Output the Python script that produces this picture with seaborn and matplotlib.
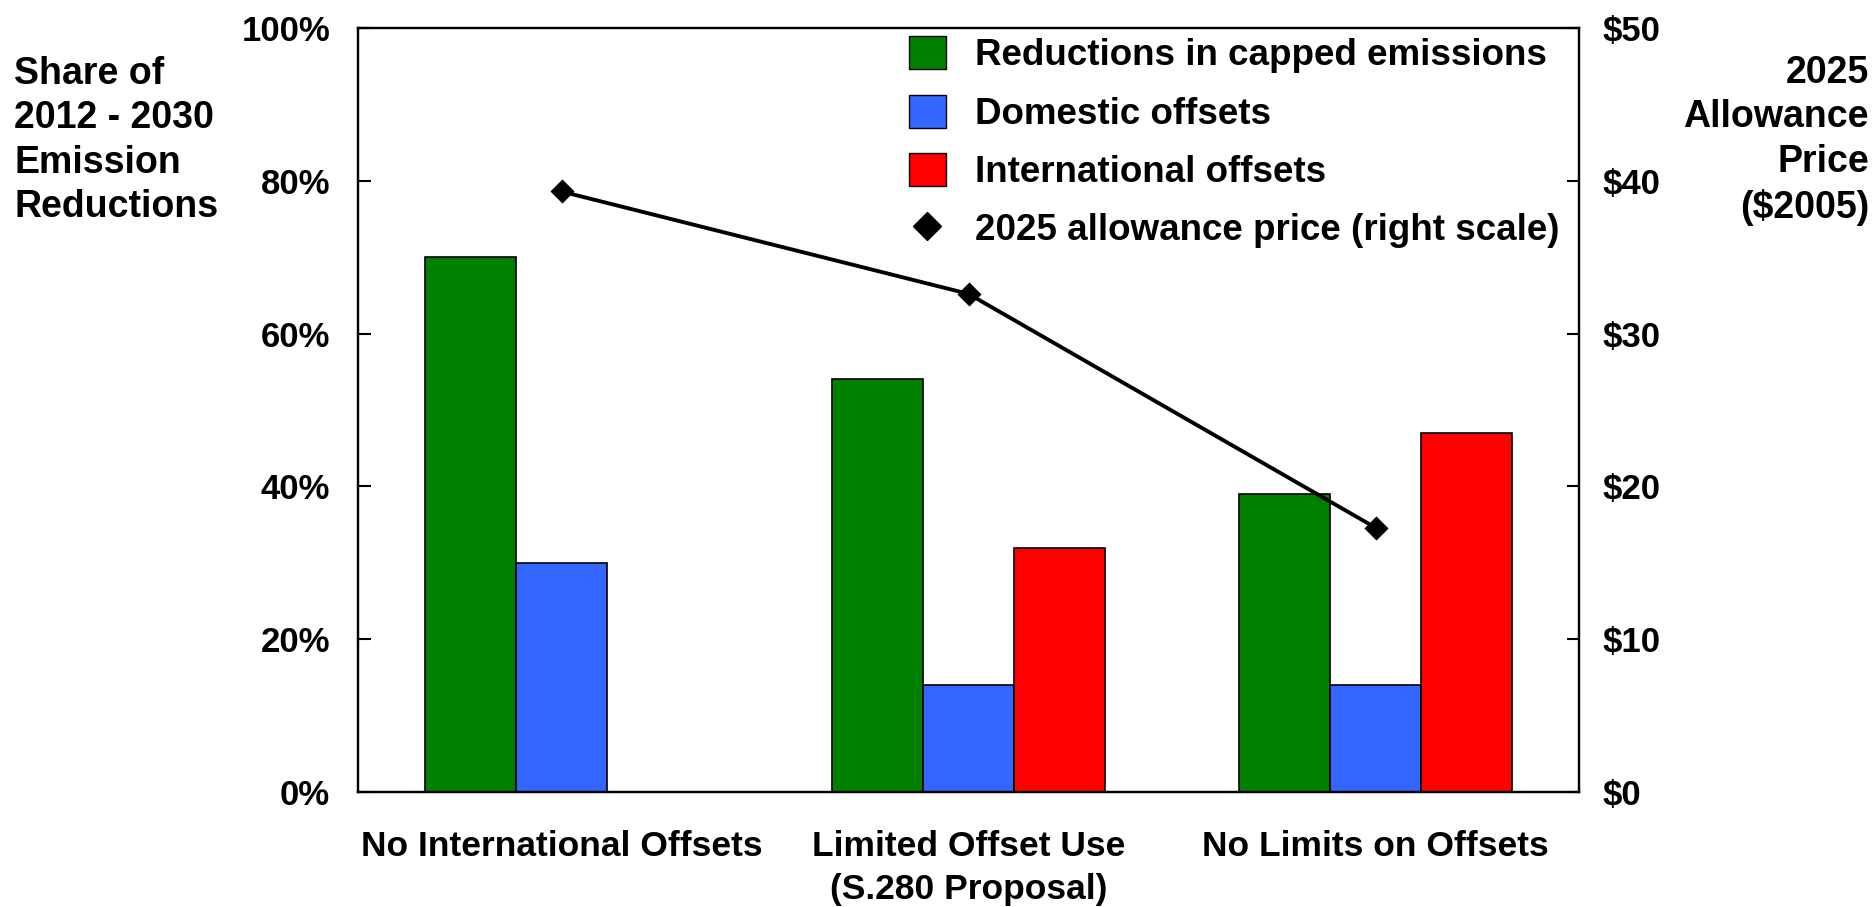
import numpy as np
import pandas as pd
import matplotlib
matplotlib.use("Agg")
import matplotlib.pyplot as plt
from matplotlib.patches import Patch
from matplotlib.lines import Line2D
from matplotlib.ticker import FuncFormatter
import seaborn as sns

# ---- data ----
categories = ["No International Offsets", "Limited Offset Use\n(S.280 Proposal)", "No Limits on Offsets"]
series_names = ["Reductions in capped emissions", "Domestic offsets", "International offsets"]
capped = [70, 54, 39]
domestic = [30, 14, 14]
international = [None, 32, 47]
price = [39.3, 32.6, 17.3]
price_label = "2025 allowance price (right scale)"
left_ticks = [0, 20, 40, 60, 80, 100]
right_ticks = [0, 10, 20, 30, 40, 50]
colors = ["#008000", "#3366FF", "#FF0000"]

rows = []
for name, vals in zip(series_names, [capped, domestic, international]):
    for c, v in zip(categories, vals):
        if v is not None:
            rows.append({"scenario": c, "series": name, "share": v})
df = pd.DataFrame(rows)
price_df = pd.DataFrame({"scenario": categories, "price": price})

sns.set_style("white")
plt.rcParams["font.family"] = ["Liberation Sans", "DejaVu Sans"]
plt.rcParams["font.weight"] = "bold"
for k in ["text.color", "axes.labelcolor", "xtick.color", "ytick.color", "axes.edgecolor"]:
    plt.rcParams[k] = "black"

FS_TICK = 25
FS_X = 25.5
FS_LEG = 26.5
FS_TITLE = 27

fig = plt.figure(figsize=(18.76, 9.07), dpi=100)
ax = fig.add_axes([358 / 1876, 1 - 792 / 907, 1221 / 1876, 764 / 907])
ax2 = ax.twinx()

sns.barplot(data=df, x="scenario", y="share", hue="series", order=categories,
            hue_order=series_names, palette=dict(zip(series_names, colors)),
            width=0.67, edgecolor="black", linewidth=1.2, saturation=1,
            ax=ax, legend=False)

sns.pointplot(data=price_df, x="scenario", y="price", order=categories, ax=ax2,
              color="black", markers="D", markersize=10.5, linewidth=2.8,
              errorbar=None)

ax.set_xlim(-0.5, len(categories) - 0.5)
ax.set_ylim(0, 100)
ax2.set_ylim(0, 50)
ax.set_yticks(left_ticks)
ax2.set_yticks(right_ticks)
ax.yaxis.set_major_formatter(FuncFormatter(lambda v, p: f"{v:.0f}%"))
ax2.yaxis.set_major_formatter(FuncFormatter(lambda v, p: f"${v:.0f}"))

ax.set_xticks(range(len(categories)))
ax.set_xticklabels(categories, fontsize=FS_X, fontweight="bold", linespacing=1.39)
ax.set_xticks(np.arange(0.5, len(categories) - 1, 1.0), minor=True)
ax.tick_params(axis="x", which="major", length=0, pad=27.5)
ax.tick_params(axis="x", which="minor", direction="in", length=9, width=1.5)
ax.tick_params(axis="y", direction="in", length=9, width=1.5, labelsize=FS_TICK, pad=20)
ax2.tick_params(axis="y", direction="in", length=9, width=1.5, labelsize=FS_TICK, pad=17)
for t in ax.get_yticklabels() + ax2.get_yticklabels():
    t.set_fontweight("bold")

ax.set_xlabel("")
ax.set_ylabel("")
ax2.set_ylabel("")
for a in (ax, ax2):
    for s in a.spines.values():
        s.set_linewidth(1.6)
        s.set_color("black")

ax.text(-0.2817, 0.853, "Share of\n2012 - 2030\nEmission\nReductions",
        transform=ax.transAxes, ha="left", va="center", fontsize=FS_TITLE,
        fontweight="bold", linespacing=1.3)
ax2.text(1.2375, 0.853, "2025\nAllowance\nPrice\n($2005)",
         transform=ax2.transAxes, ha="right", va="center", fontsize=FS_TITLE,
         fontweight="bold", linespacing=1.3, multialignment="right")

handles = [Patch(facecolor=c, edgecolor="black", linewidth=1.0) for c in colors]
handles.append(Line2D([], [], marker="D", color="black", linestyle="None", markersize=14))
ax2.legend(handles, series_names + [price_label], loc="upper left",
           bbox_to_anchor=(0.4513, 0.989), frameon=False, borderaxespad=0,
           borderpad=0, handlelength=1.0, handleheight=1.0, handletextpad=0.8,
           labelspacing=0.575, prop={"size": FS_LEG, "weight": "bold"})

fig.savefig("out.png", dpi=100)
